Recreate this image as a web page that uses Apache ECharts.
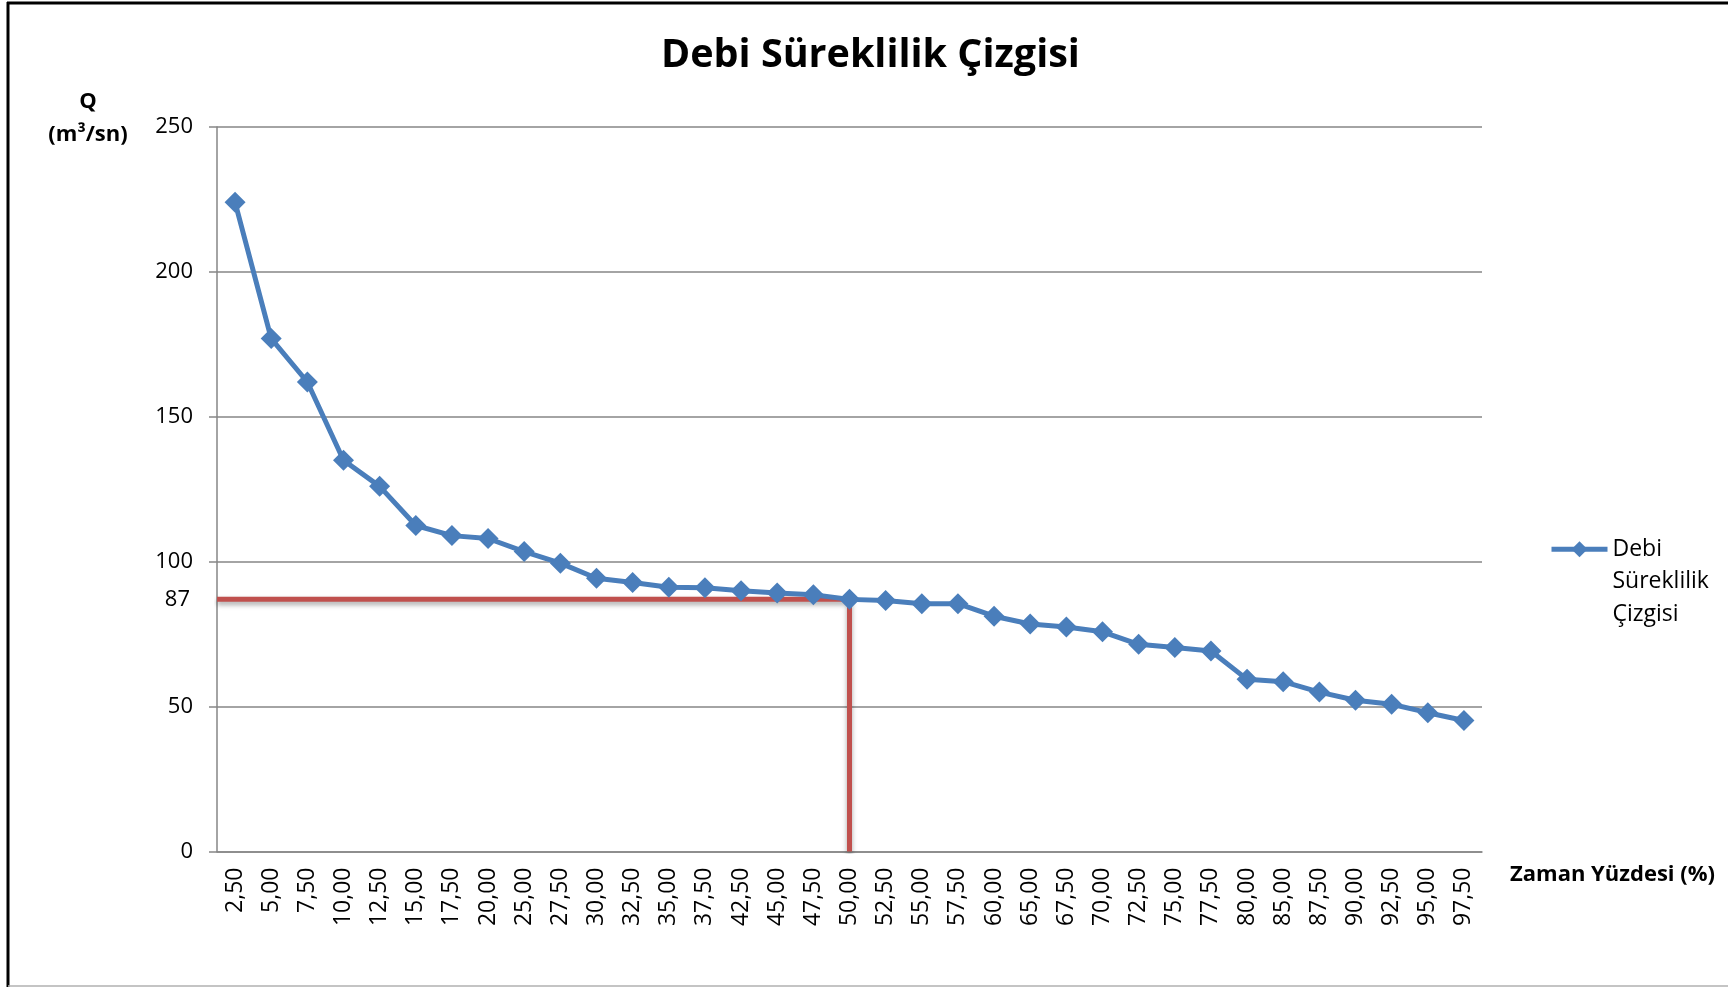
<!DOCTYPE html>
<html lang="tr">
<head>
<meta charset="utf-8">
<title>Debi Süreklilik Çizgisi</title>
<script src="https://cdn.jsdelivr.net/npm/echarts@6/dist/echarts.min.js"></script>
<style>
  html, body { margin: 0; padding: 0; background: #ffffff; }
  #chart { width: 1728px; height: 987px; }
</style>
</head>
<body>
<div id="chart"></div>
<script>
// Zaman yüzdesi (%) kategorileri
const categories = [
  '2,50', '5,00', '7,50', '10,00', '12,50', '15,00', '17,50', '20,00',
  '25,00', '27,50', '30,00', '32,50', '35,00', '37,50', '42,50', '45,00',
  '47,50', '50,00', '52,50', '55,00', '57,50', '60,00', '65,00', '67,50',
  '70,00', '72,50', '75,00', '77,50', '80,00', '85,00', '87,50', '90,00',
  '92,50', '95,00', '97,50'
];

// Debi değerleri Q (m³/sn)
const debi = [
  224, 177, 162, 135, 126, 112.5, 109, 108,
  103.5, 99.5, 94.3, 92.8, 91.2, 91, 90, 89.2,
  88.6, 87, 86.6, 85.5, 85.5, 81.2, 78.5, 77.5,
  75.8, 71.5, 70.4, 69.2, 59.4, 58.6, 55, 52.2,
  50.8, 47.9, 45.2
];

// Q ekseni ölçeği
const yMin = 0;
const yMax = 250;
const yStep = 50;

// %50 süreklilik debisi okuması
const readCategory = '50,00';
const readQ = 87;

const seriesName = 'Debi Süreklilik Çizgisi';
const legendText = ['Debi', 'Süreklilik', 'Çizgisi'];
const blue = '#4A7EBB';
const red = '#C0504D';
const grey = '#868686';

const readIdx = categories.indexOf(readCategory);
// kırmızı okuma çizgisi: eksenden noktaya, noktadan yatay eksene
const readPath = [
  { value: [0, readQ], label: { show: true } },
  { value: [readIdx + 0.5, readQ] },
  { value: [readIdx + 0.5, yMin] }
];

const chart = echarts.init(document.getElementById('chart'), null, { renderer: 'canvas' });

chart.setOption({
  animation: false,
  backgroundColor: '#ffffff',
  textStyle: { fontFamily: 'Open Sans' },
  title: {
    text: seriesName,
    left: 656,
    top: 31,
    textStyle: { fontFamily: 'Open Sans', fontWeight: 'bold', fontSize: 39.5, color: '#000' }
  },
  legend: {
    data: [seriesName],
    orient: 'vertical',
    left: 1544,
    top: 463,
    itemWidth: 56,
    itemHeight: 20,
    lineStyle: { width: 5, color: blue },
    itemStyle: { color: blue },
    // iki boş satır: ilk satır simgeyle aynı hizada kalsın
    formatter: () => '\n\n' + legendText.join('\n'),
    textStyle: {
      fontFamily: 'Open Sans', fontSize: 23, color: '#000',
      lineHeight: 32.5
    }
  },
  grid: { left: 217, right: 246, top: 127, bottom: 135.5, containLabel: false },
  xAxis: [
    {
      type: 'category',
      data: categories,
      boundaryGap: true,
      name: 'Zaman Yüzdesi (%)',
      nameLocation: 'end',
      nameGap: 28,
      nameMoveOverlap: false,
      nameTextStyle: {
        fontFamily: 'Open Sans', fontWeight: 'bold', fontSize: 22, color: '#000',
        verticalAlign: 'top', lineHeight: 30, padding: [8, 0, 0, 0]
      },
      axisLine: { lineStyle: { color: grey, width: 1.5 } },
      axisTick: { show: false },
      axisLabel: { rotate: 90, margin: 16, fontFamily: 'Open Sans', fontSize: 23, color: '#000', interval: 0 },
      splitLine: { show: false }
    },
    {
      type: 'value',
      min: 0,
      max: categories.length,
      show: false
    }
  ],
  yAxis: {
    type: 'value',
    min: yMin,
    max: yMax,
    interval: yStep,
    name: 'Q\n(m³/sn)',
    nameLocation: 'end',
    nameGap: -24,
    nameMoveOverlap: false,
    nameTextStyle: {
      fontFamily: 'Open Sans', fontWeight: 'bold', fontSize: 22, color: '#000',
      lineHeight: 33, align: 'center', padding: [0, 258, 0, 0]
    },
    axisLine: { show: true, lineStyle: { color: grey, width: 1.5 } },
    axisTick: { show: true, length: 8, lineStyle: { color: grey, width: 1.5 } },
    axisLabel: { margin: 24, fontFamily: 'Open Sans', fontSize: 22, color: '#000' },
    splitLine: { show: true, lineStyle: { color: grey, width: 1.5 } }
  },
  series: [
    {
      name: 'okuma',
      type: 'line',
      xAxisIndex: 1,
      data: readPath,
      symbol: 'circle',
      symbolSize: 0,
      showSymbol: true,
      showAllSymbol: true,
      silent: true,
      z: 1,
      lineStyle: {
        color: red, width: 5,
        shadowColor: 'rgba(0,0,0,0.35)', shadowBlur: 5, shadowOffsetY: 3
      },
      itemStyle: { color: red },
      label: {
        show: false,
        position: 'left',
        distance: 27,
        formatter: (p) => String(p.value[1]),
        fontFamily: 'Open Sans', fontSize: 22, color: '#000'
      }
    },
    {
      name: seriesName,
      type: 'line',
      data: debi,
      z: 3,
      symbol: 'diamond',
      symbolSize: 21,
      itemStyle: { color: blue },
      lineStyle: { color: blue, width: 5 }
    }
  ],
  graphic: [
    { type: 'line', shape: { x1: 8, y1: 2, x2: 8, y2: 987 }, style: { stroke: '#000', lineWidth: 3 }, silent: true },
    { type: 'line', shape: { x1: 7, y1: 3, x2: 1728, y2: 3 }, style: { stroke: '#000', lineWidth: 3 }, silent: true },
    { type: 'line', shape: { x1: 8, y1: 986, x2: 1728, y2: 986 }, style: { stroke: '#b0b0b0', lineWidth: 1.5 }, silent: true }
  ]
});
</script>
</body>
</html>
